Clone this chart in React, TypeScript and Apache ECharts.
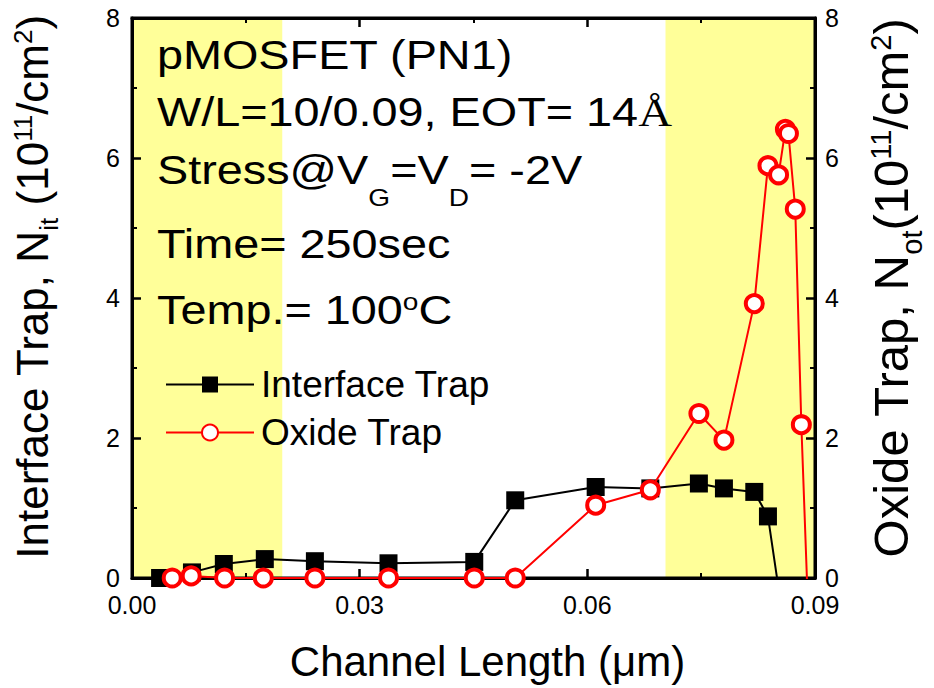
import React, { useEffect, useRef } from "react";
import * as echarts from "echarts";

// Channel length positions (µm) and trap densities (1e11 /cm^2)
const xInterface = [0.0037, 0.0079, 0.0121, 0.0175, 0.0241, 0.0338, 0.0451, 0.0505, 0.0611, 0.0683, 0.0747, 0.078, 0.082, 0.0838, 0.0852];
const nInterface = [0.0, 0.08, 0.2, 0.27, 0.24, 0.21, 0.23, 1.11, 1.3, 1.28, 1.35, 1.28, 1.23, 0.88, -0.15];

const xOxide = [0.0053, 0.0078, 0.0122, 0.0173, 0.0241, 0.0338, 0.0451, 0.0505, 0.0611, 0.0683, 0.0747, 0.078, 0.082, 0.0838, 0.0852, 0.0861, 0.0865, 0.0874, 0.0882, 0.089];
const nOxide = [0, 0.03, 0, 0, 0, 0, 0, 0, 1.04, 1.26, 2.35, 1.97, 3.92, 5.89, 5.76, 6.41, 6.35, 5.27, 2.19, -0.2];

// Highlighted regions (µm)
const bands = [
  [0, 0.0198],
  [0.0703, 0.09],
];

const seriesNames = ["Interface Trap", "Oxide Trap"];

const annotationLines = [
  "{m|pMOSFET (PN1)}",
  "{m|W/L=10/0.09, EOT= 14}{s|Å}",
  "{m|Stress@V}{sub|G}{m|=V}{sub|D}{m|= -2V}",
  "{m|Time= 250sec}",
  "{m|Temp.= 100}{sup|o}{m|C}",
];
const annotationTops = [35, 92, 150, 224, 290];

const FONT = "'Liberation Sans', Arial, Helvetica, sans-serif";

export default function App() {
  const ref = useRef<HTMLDivElement>(null);

  useEffect(() => {
    if (!ref.current) return;
    const chart = echarts.init(ref.current, null, { renderer: "svg" });

    const annoRich = {
      m: { fontSize: 40, lineHeight: 44, fontFamily: FONT, color: "#000", verticalAlign: "top" },
      s: { fontSize: 40, lineHeight: 44, fontFamily: "'Liberation Serif', 'Times New Roman', serif", color: "#000", verticalAlign: "top" },
      sub: { fontSize: 24, lineHeight: 60, fontFamily: FONT, color: "#000", verticalAlign: "bottom" },
      sup: { fontSize: 24, lineHeight: 24, fontFamily: FONT, color: "#000", verticalAlign: "top" },
    };

    const leftRich = {
      m: { fontSize: 44, lineHeight: 48, fontFamily: FONT, color: "#000", verticalAlign: "top" },
      sub: { fontSize: 26, lineHeight: 52, fontFamily: FONT, color: "#000", verticalAlign: "bottom" },
      sup: { fontSize: 26, lineHeight: 26, fontFamily: FONT, color: "#000", verticalAlign: "top" },
    };
    const rightRich = {
      m: { fontSize: 49, lineHeight: 54, fontFamily: FONT, color: "#000", verticalAlign: "top" },
      sub: { fontSize: 29, lineHeight: 60, fontFamily: FONT, color: "#000", verticalAlign: "bottom" },
      sup: { fontSize: 29, lineHeight: 29, fontFamily: FONT, color: "#000", verticalAlign: "top" },
    };

    const mkAxisCommon = () => ({
      axisLine: { show: true, onZero: false, lineStyle: { color: "#000", width: 3 } },
      axisTick: { show: true, inside: true, length: 9, lineStyle: { color: "#000", width: 2.5 } },
      minorTick: { show: true, splitNumber: 2, length: 5, lineStyle: { color: "#000", width: 2 } },
      splitLine: { show: false },
    });

    const option = {
      animation: false,
      backgroundColor: "#fff",
      grid: {
        left: 132,
        right: 116,
        top: 18,
        bottom: 110,
        show: true,
        backgroundColor: "transparent",
        borderColor: "#000",
        borderWidth: 3,
      },
      legend: {
        data: seriesNames,
        orient: "vertical",
        left: 160,
        top: 361,
        itemWidth: 88,
        itemHeight: 20,
        itemGap: 11,
        textStyle: { fontSize: 37, fontFamily: FONT, color: "#000", padding: [0, 0, 0, 2] },
      },
      xAxis: [
        {
          type: "value",
          min: 0,
          max: 0.09,
          interval: 0.03,
          position: "bottom",
          name: "Channel Length (μm)",
          nameLocation: "middle",
          nameGap: 62,
          nameTextStyle: { fontSize: 42, fontFamily: FONT, color: "#000", padding: [0, 0, 0, 28] },
          ...mkAxisCommon(),
          axisLabel: {
            fontSize: 25,
            fontFamily: FONT,
            color: "#000",
            margin: 14,
            formatter: (v: number) => v.toFixed(2),
          },
        },
        {
          type: "value",
          min: 0,
          max: 0.09,
          interval: 0.03,
          position: "top",
          ...mkAxisCommon(),
          axisLabel: { show: false },
        },
      ],
      yAxis: [
        {
          type: "value",
          min: 0,
          max: 8,
          interval: 2,
          position: "left",
          name: "{m|Interface Trap, N}{sub|it}{m| (10}{sup|11}{m|/cm}{sup|2}{m|)}",
          nameLocation: "middle",
          nameRotate: 90,
          nameGap: 70,
          nameTextStyle: { rich: leftRich, padding: [0, 0, 0, 22] },
          ...mkAxisCommon(),
          axisLabel: { fontSize: 25, fontFamily: FONT, color: "#000", margin: 12 },
        },
        {
          type: "value",
          min: 0,
          max: 8,
          interval: 2,
          position: "right",
          name: "{m|Oxide Trap, N}{sub|ot}{m|(10}{sup|11}{m|/cm}{sup|2}{m|)}",
          nameLocation: "middle",
          nameRotate: 90,
          nameGap: 51,
          nameTextStyle: { rich: rightRich, padding: [0, 0, 0, 20] },
          ...mkAxisCommon(),
          axisLabel: { fontSize: 25, fontFamily: FONT, color: "#000", margin: 10 },
        },
      ],
      graphic: annotationLines.map((t, i) => ({
        type: "text",
        x: 157,
        y: annotationTops[i],
        scaleX: 1.17,
        z: 10,
        silent: true,
        style: { text: t, rich: annoRich, verticalAlign: "top", align: "left" },
      })),
      series: [
        {
          name: "bands",
          type: "line",
          data: [],
          z: -5,
          silent: true,
          markArea: {
            silent: true,
            z: -5,
            itemStyle: { color: "#FFFF99" },
            data: bands.map((b) => [{ xAxis: b[0] }, { xAxis: b[1] }]),
          },
        },
        {
          name: seriesNames[0],
          type: "line",
          xAxisIndex: 0,
          yAxisIndex: 0,
          z: 4,
          clip: true,
          data: xInterface.map((x, i) => [x, nInterface[i]]),
          symbol: "rect",
          symbolSize: 18,
          lineStyle: { color: "#000", width: 2 },
          itemStyle: { color: "#000" },
        },
        {
          name: seriesNames[1],
          type: "line",
          xAxisIndex: 0,
          yAxisIndex: 1,
          z: 5,
          clip: true,
          data: xOxide.map((x, i) => [x, nOxide[i]]),
          symbol: "circle",
          symbolSize: 17,
          lineStyle: { color: "#ff0000", width: 2 },
          itemStyle: { color: "#ffffff", borderColor: "#ff0000", borderWidth: 4 },
        },
      ],
    };

    chart.setOption(option as any);
    return () => chart.dispose();
  }, []);

  return (
    <div
      ref={ref}
      style={{ position: "fixed", left: 0, top: 0, width: 934, height: 688 }}
    />
  );
}
